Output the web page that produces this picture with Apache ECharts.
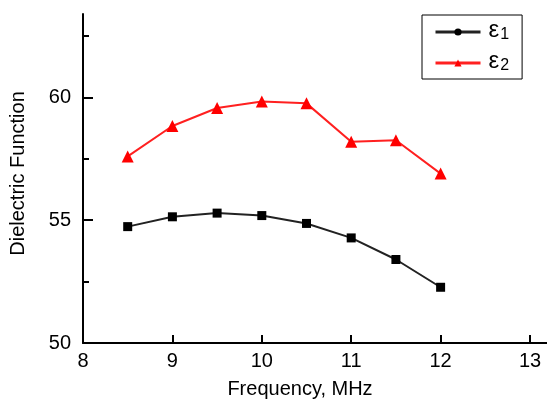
<!DOCTYPE html>
<html>
<head>
<meta charset="utf-8">
<script src="https://cdn.jsdelivr.net/npm/echarts@6/dist/echarts.min.js"></script>
<style>html,body{margin:0;padding:0;background:#fff}#c{width:547px;height:399px}</style>
</head>
<body>
<div id="c"></div>
<script>
const frequency = [8.5, 9, 9.5, 10, 10.5, 11, 11.5, 12];
const eps1 = [54.74, 55.14, 55.29, 55.19, 54.87, 54.28, 53.40, 52.27];
const eps2 = [57.60, 58.84, 59.57, 59.84, 59.76, 58.20, 58.26, 56.90];
const xTicks = [8, 9, 10, 11, 12, 13];
const yTicks = [50, 55, 60];
const yMinorTicks = [52.5, 57.5, 62.5];
const seriesNames = ['ε1', 'ε2'];

const FONT = 'Liberation Sans, Arial, sans-serif';
const chart = echarts.init(document.getElementById('c'), null, {renderer: 'canvas'});

function pts(vals, sym) {
  return frequency.map((f, i) => ({value: [f, vals[i]], symbol: sym}));
}

chart.setOption({
  animation: false,
  backgroundColor: '#fff',
  grid: {left: 83, right: 0, top: 14, bottom: 56, containLabel: false, outerBoundsMode: 'none'},
  legend: {
    left: 422, top: 15,
    orient: 'vertical',
    itemWidth: 45, itemHeight: 9, itemGap: 3,
    padding: [3, 13, 2, 12],
    borderColor: '#000', borderWidth: 1, borderRadius: 0,
    lineStyle: {width: 3},
    data: seriesNames,
    formatter: n => '{e|ε}{s|' + n.slice(1) + '}',
    textStyle: {
      color: '#000', fontFamily: FONT,
      rich: {
        e: {fontSize: 24, lineHeight: 22, fontFamily: FONT, color: '#000', padding: [0, 0, 4, 3]},
        s: {fontSize: 16, lineHeight: 22, fontFamily: FONT, color: '#000', padding: [5, 0, 0, 1]}
      }
    }
  },
  xAxis: {
    type: 'value', min: 8, max: 13.19, interval: 1,
    name: 'Frequency, MHz', nameLocation: 'middle', nameGap: 36,
    nameTextStyle: {fontSize: 20, fontFamily: FONT, color: '#000', padding: [0, 30, 0, 0]},
    axisLine: {lineStyle: {color: '#000', width: 2}},
    axisTick: {inside: true, length: 8, lineStyle: {color: '#000', width: 2}, customValues: xTicks},
    axisLabel: {fontSize: 20, fontFamily: FONT, color: '#000', margin: 8, customValues: xTicks},
    splitLine: {show: false}
  },
  yAxis: [{
    type: 'value', min: 50, max: 63.4, interval: 5,
    name: 'Dielectric Function', nameLocation: 'middle', nameGap: 55,
    nameTextStyle: {fontSize: 20, fontFamily: FONT, color: '#000', padding: [0, 0, 0, 10]},
    axisLine: {lineStyle: {color: '#000', width: 2}},
    axisTick: {inside: true, length: 10, lineStyle: {color: '#000', width: 2}, customValues: yTicks},
    axisLabel: {fontSize: 20, fontFamily: FONT, color: '#000', margin: 12, customValues: yTicks},
    splitLine: {show: false}
  }, {
    type: 'value', min: 50, max: 63.4, position: 'left', offset: 0,
    axisLine: {show: false},
    axisTick: {show: true, inside: true, length: 6, lineStyle: {color: '#000', width: 2}, customValues: yMinorTicks},
    axisLabel: {show: false},
    splitLine: {show: false}
  }],
  series: [{
    name: seriesNames[0], type: 'line',
    symbol: 'circle', symbolSize: 9,
    data: pts(eps1, 'rect'),
    itemStyle: {color: '#000'},
    lineStyle: {color: '#222', width: 2}
  }, {
    name: seriesNames[1], type: 'line',
    symbol: 'triangle', symbolSize: 12,
    data: pts(eps2, 'triangle'),
    itemStyle: {color: '#ff0000'},
    lineStyle: {color: '#ff2020', width: 2}
  }]
});
</script>
</body>
</html>
